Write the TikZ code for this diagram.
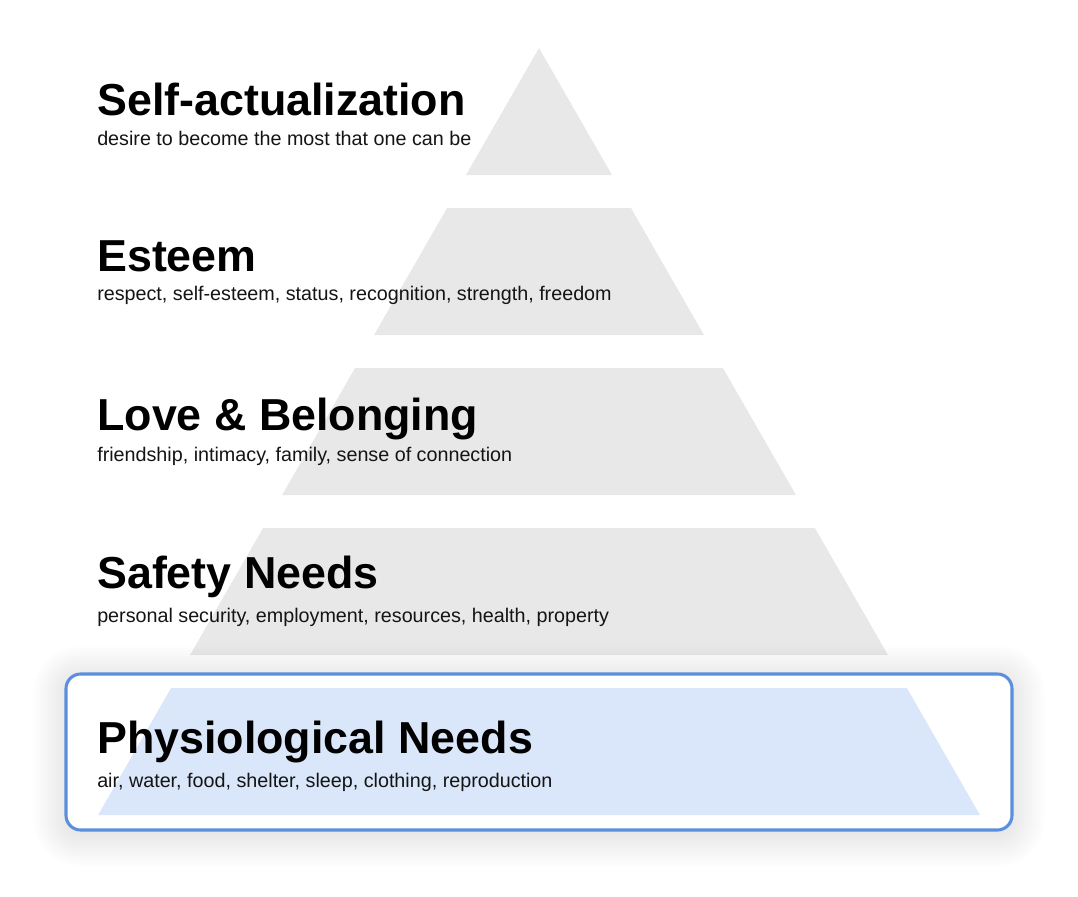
\documentclass[tikz,border=0pt]{standalone}
\usepackage{fontspec}
\setmainfont{Liberation Sans}
\definecolor{tiergray}{HTML}{E8E8E8}
\definecolor{tierblue}{HTML}{DAE6FA}
\definecolor{boxblue}{HTML}{5B8EDC}
\tikzset{
  tiertitle/.style={anchor=base west, inner sep=0pt,
    font=\fontsize{33.6}{40}\selectfont\bfseries},
  tiernote/.style={anchor=base west, inner sep=0pt,
    font=\fontsize{14.8}{18}\selectfont, text=black!92},
}
\begin{document}
\begin{tikzpicture}[x=0.75pt, y=-0.75pt]
  \useasboundingbox (0,0) rectangle (1078,896);
  % pyramid tiers, apex at (539,48)
  \foreach \i in {0,...,3}
    \fill[tiergray] ({539-0.5748*160*\i}, {48+160*\i}) -- ({539+0.5748*160*\i}, {48+160*\i})
      -- ({539+0.5748*(160*\i+127)}, {175+160*\i}) -- ({539-0.5748*(160*\i+127)}, {175+160*\i}) -- cycle;
  % soft shadow round the highlighted tier
  \foreach \k [evaluate=\k as \r using 11+1.1*\k] in {1,...,22}
    \fill[black, opacity=0.0035, rounded corners=\r pt] (66-1.5*\k, 678-1.5*\k) rectangle (1012+1.5*\k, 834+1.5*\k);
  \fill[white, rounded corners=11pt] (66,674) rectangle (1012,830);
  \fill[tierblue] ({539-0.5748*640}, 688) -- ({539+0.5748*640}, 688)
    -- ({539+0.5748*767}, 815) -- ({539-0.5748*767}, 815) -- cycle;
  \draw[boxblue, line width=2.3pt, rounded corners=11pt] (66,674) rectangle (1012,830);
  % labels
  \foreach \n/\y/\s/\t/\d in {self/115/30/Self-actualization/{desire to become the most that one can be},
      esteem/271/29/Esteem/{respect, self-esteem, status, recognition, strength, freedom},
      love/430/31/{Love \& Belonging}/{friendship, intimacy, family, sense of connection},
      safety/588/34/Safety Needs/{personal security, employment, resources, health, property},
      body/753/34/Physiological Needs/{air, water, food, shelter, sleep, clothing, reproduction}} {
    \node[tiertitle] (\n-title) at (97,\y) {\t};
    \node[tiernote] (\n-note) at (97,\y+\s) {\d};
  }
\end{tikzpicture}
\end{document}
